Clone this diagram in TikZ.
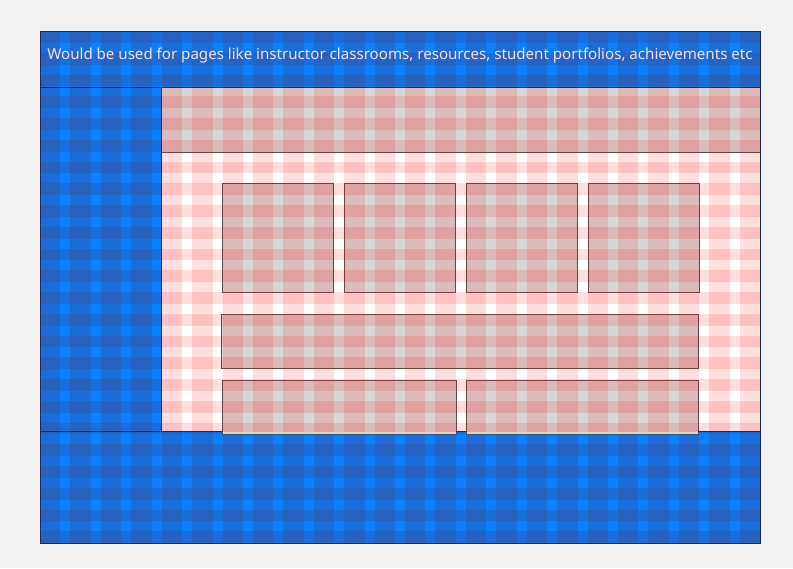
\documentclass[tikz,border=0pt]{standalone}
\usepackage{fontspec}
\setmainfont{Noto Sans}
\definecolor{pagebg}{HTML}{F2F2F2}
\definecolor{frameblue}{RGB}{10,128,255}
\definecolor{bluegrid}{RGB}{67,71,135}
\definecolor{headertxt}{RGB}{246,222,230}
\definecolor{frameline}{HTML}{1E2A4A}
\definecolor{boxline}{HTML}{5A4E4E}
\begin{document}
\begin{tikzpicture}[x=1pt, y=-1pt]
        % --- Styles ---
        \tikzset{
            grid_band/.style={fill=red, fill opacity=0.13},
            blue_band/.style={fill=bluegrid, fill opacity=0.3},
            card/.style={fill=black!16, draw=boxline, line width=0.8pt},
            zone_line/.style={draw=frameline, line width=1pt},
            header_text/.style={font=\fontsize{15.1}{18}\selectfont, text=headertxt, inner sep=0pt}
        }
        \useasboundingbox[fill=pagebg] (0,0) rectangle (793,568);

        % =====================================================================
        % CADRE : en-tête, barre latérale, pied de page
        % =====================================================================
        \fill[frameblue] (40,31) rectangle (760,543);
        % Grille sur le bleu
        \foreach \i in {0,...,23} {
            \fill[blue_band] ({40+\i*30.4167},31) rectangle ++(20.4167,512); % Colonnes
            \fill[blue_band] (40,{31+\i*21.75}) rectangle ++(720,11.75); % Lignes
        }
        \fill[white] (161,87) rectangle (760,431);

        % =====================================================================
        % CONTENU : blocs
        % =====================================================================
        \draw[card] (161,87) rectangle (760,152);
        % Cartes
        \foreach \x in {222,344,466,588} {
            \draw[card] (\x,183) rectangle ++(111.5,109);
        }
        \draw[card] (221,314) rectangle (698,368);
        \draw[card] (222,380) rectangle (456,434);
        \draw[card] (466,380) rectangle (698,434);

        % =====================================================================
        % GRILLE : 24 colonnes, 24 lignes (zone de contenu)
        % =====================================================================
        \begin{scope}
            \clip (161,87) rectangle (760,431);
            \foreach \i in {0,...,23} {
                \fill[grid_band] ({40+\i*30.4167},31) rectangle ++(20.4167,512); % Colonnes
                \fill[grid_band] (40,{31+\i*21.75}) rectangle ++(720,11.75); % Lignes
            }
        \end{scope}

        % Séparations et texte
        \draw[zone_line] (40,87) -- (760,87);
        \draw[zone_line] (161,87) -- (161,431);
        \draw[zone_line] (40,431) -- (222,431) (456,431) -- (466,431) (698,431) -- (760,431);
        \draw[zone_line] (40,31) rectangle (760,543);
        \node[header_text, anchor=base] (headerText) at (400,59)
            {Would be used for pages like instructor classrooms, resources, student portfolios, achievements etc};
    \end{tikzpicture}
\end{document}
